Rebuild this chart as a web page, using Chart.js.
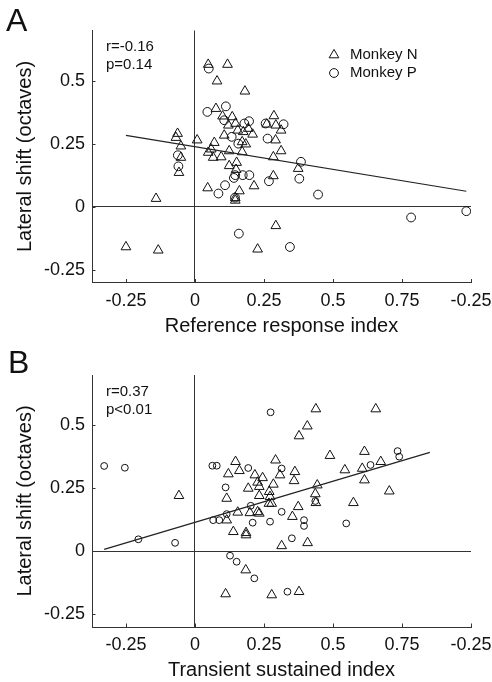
<!DOCTYPE html>
<html><head><meta charset="utf-8">
<script src="https://cdn.jsdelivr.net/npm/chart.js@4.4.0/dist/chart.umd.min.js"></script>
<style>
html,body{margin:0;padding:0;background:#fff;}
#wrap{position:relative;width:492px;height:682px;overflow:hidden;}
.pc{position:absolute;left:0;width:492px;height:341px;}
.lbl{position:absolute;font-family:"Liberation Sans",Arial,sans-serif;font-size:32px;color:#111;line-height:1;}
</style></head><body>
<div id="wrap">
<div class="pc" style="top:0"><canvas id="cA" width="492" height="341"></canvas></div>
<div class="pc" style="top:341px"><canvas id="cB" width="492" height="341"></canvas></div>
<div class="lbl" style="left:6px;top:4px">A</div>
<div class="lbl" style="left:8px;top:346px">B</div>
</div>
<script>
// ---------- data ----------
const xTickValues = [-0.25, 0, 0.25, 0.5, 0.75, 1.0];
const xTickLabels = ['-0.25', '0', '0.25', '0.5', '0.75', '-0.25'];
const yTickValues = [-0.25, 0, 0.25, 0.5];
const yTickLabels = ['-0.25', '0', '0.25', '0.5'];

// Panel A: Monkey N (triangles)
const aN_x = [0.048,0.118,0.080,0.181,0.076,0.100,0.135,0.121,0.147,0.155,0.175,0.193,0.209,0.106,0.286,0.260,0.293,0.312,0.292,0.312,0.284,0.284,0.374,-0.063,-0.069,-0.051,-0.051,-0.058,0.008,0.070,0.059,0.048,0.066,0.095,0.124,0.124,0.151,0.149,0.171,0.184,0.171,0.046,0.161,0.214,0.146,0.146,-0.141,-0.250,-0.133,0.227,0.293];
const aN_y = [0.565,0.565,0.499,0.459,0.390,0.360,0.357,0.324,0.331,0.304,0.298,0.311,0.288,0.284,0.361,0.328,0.324,0.304,0.265,0.222,0.198,0.123,0.152,0.291,0.275,0.241,0.196,0.136,0.265,0.255,0.229,0.216,0.196,0.198,0.222,0.163,0.176,0.148,0.218,0.249,0.258,0.075,0.063,0.083,0.026,0.036,0.033,-0.159,-0.172,-0.168,-0.075];
// Panel A: Monkey P (circles)
const aP_x = [0.050,0.045,0.112,0.106,0.179,0.196,0.256,0.321,0.263,0.133,0.157,-0.062,-0.060,0.384,0.378,0.268,0.197,0.173,0.146,0.141,0.109,0.085,0.145,0.446,0.783,0.983,0.159,0.344];
const aP_y = [0.549,0.377,0.399,0.344,0.331,0.340,0.331,0.328,0.271,0.278,0.251,0.205,0.161,0.179,0.112,0.102,0.126,0.126,0.126,0.115,0.086,0.053,0.037,0.049,-0.042,-0.017,-0.106,-0.159];
// Panel A regression line (end points)
const fitA_x = [-0.25, 0.983];
const fitA_y = [0.284, 0.062];

// Panel B: Monkey N (triangles)
const bN_x = [0.438,0.655,0.407,0.377,0.489,0.614,0.606,0.673,0.543,0.614,0.704,0.443,0.436,0.438,0.574,0.362,0.359,0.374,0.353,0.408,0.314,0.147,0.161,0.121,0.292,0.308,0.217,0.245,0.227,0.233,0.284,0.193,0.269,0.233,0.272,0.278,0.268,0.115,0.199,0.227,0.233,0.155,0.115,0.139,0.185,0.185,-0.058,0.184,0.111,0.278,0.377];
const bN_y = [0.565,0.565,0.497,0.458,0.380,0.396,0.329,0.356,0.323,0.283,0.239,0.263,0.228,0.193,0.193,0.316,0.280,0.177,0.138,0.034,0.022,0.356,0.320,0.307,0.362,0.303,0.303,0.292,0.274,0.257,0.266,0.250,0.237,0.221,0.217,0.190,0.190,0.210,0.153,0.157,0.151,0.155,0.124,0.078,0.074,0.065,0.221,-0.074,-0.169,-0.173,-0.160];
// Panel B: Monkey P (circles)
const bP_x = [-0.329,-0.254,-0.205,-0.072,0.274,0.063,0.079,0.193,0.314,0.111,0.202,0.115,0.066,0.088,0.209,0.272,0.314,0.395,0.395,0.351,0.548,0.436,0.636,0.734,0.740,0.127,0.151,0.215,0.335];
const bP_y = [0.339,0.332,0.048,0.034,0.552,0.340,0.340,0.331,0.329,0.254,0.181,0.148,0.124,0.124,0.114,0.118,0.157,0.124,0.101,0.052,0.111,0.200,0.343,0.398,0.376,-0.017,-0.041,-0.107,-0.160];
// Panel B regression line
const fitB_x = [-0.329, 0.851];
const fitB_y = [0.008, 0.393];

// ---------- rendering ----------
const FAM = '"Liberation Sans", Arial, sans-serif';
const INK = '#111';
const AX = '#333';
const pts = (xs, ys) => xs.map((x, i) => ({x: x, y: ys[i]}));

const decoPlugin = {
  id: 'deco',
  afterDraw(chart, args, o) {
    const ctx = chart.ctx;
    const xs = chart.scales.x, ys = chart.scales.y;
    const ca = chart.chartArea;
    ctx.save();
    ctx.strokeStyle = AX;
    ctx.lineWidth = 1;
    ctx.beginPath();
    xTickValues.forEach(v => {
      const px = Math.round(xs.getPixelForValue(v)) + 0.5;
      ctx.moveTo(px, ca.bottom); ctx.lineTo(px, ca.bottom - 3.5);
    });
    yTickValues.forEach(v => {
      const py = Math.round(ys.getPixelForValue(v)) + 0.5;
      ctx.moveTo(ca.left, py); ctx.lineTo(ca.left + 3.5, py);
    });
    ctx.stroke();
    ctx.fillStyle = INK;
    ctx.font = '15px ' + FAM;
    ctx.textBaseline = 'middle';
    ctx.textAlign = 'left';
    (o.notes || []).forEach(n => ctx.fillText(n.text, n.x, n.y));
    if (o.legend) {
      const L = o.legend;
      ctx.strokeStyle = INK;
      ctx.lineWidth = 1;
      const r = L.tri;
      ctx.beginPath();
      ctx.moveTo(L.x, L.y1 - r);
      ctx.lineTo(L.x + r * 0.866, L.y1 + r / 2);
      ctx.lineTo(L.x - r * 0.866, L.y1 + r / 2);
      ctx.closePath();
      ctx.stroke();
      ctx.beginPath();
      ctx.arc(L.x, L.y2, L.circ, 0, Math.PI * 2);
      ctx.stroke();
      ctx.fillText('Monkey N', L.tx, L.y1);
      ctx.fillText('Monkey P', L.tx, L.y2);
    }
    ctx.restore();
  }
};

function makePanel(id, cfg) {
  const zeroColor = c => (c.tick && Math.abs(c.tick.value) < 1e-9) ? AX : 'rgba(0,0,0,0)';
  return new Chart(document.getElementById(id), {
    type: 'scatter',
    data: {
      datasets: [
        {label: 'fit', type: 'line', data: pts(cfg.fitX, cfg.fitY), borderColor: '#222', borderWidth: 1.2,
         pointRadius: 0, fill: false, tension: 0, order: 0},
        {label: 'Monkey N', data: pts(cfg.nX, cfg.nY), pointStyle: 'triangle', pointRadius: 5.6,
         pointHoverRadius: 5.6, borderColor: INK, backgroundColor: 'rgba(255,255,255,0)', pointBorderWidth: 1, order: 1},
        {label: 'Monkey P', data: pts(cfg.pX, cfg.pY), pointStyle: 'circle', pointRadius: cfg.circR,
         pointHoverRadius: cfg.circR, borderColor: INK, backgroundColor: 'rgba(255,255,255,0)', pointBorderWidth: 1, order: 2}
      ]
    },
    options: {
      responsive: false,
      animation: false,
      devicePixelRatio: 1,
      layout: {padding: {left: 0, top: cfg.padTop, right: 21, bottom: 0}},
      plugins: {
        legend: {display: false},
        tooltip: {enabled: false},
        deco: {notes: cfg.notes, legend: cfg.legend}
      },
      scales: {
        x: {
          type: 'linear', min: -0.373, max: 1.0,
          afterBuildTicks: s => { s.ticks = xTickValues.map(v => ({value: v})); },
          afterFit: s => { s.height = cfg.xH; s.paddingLeft = 0; s.paddingRight = 0; },
          ticks: {
            autoSkip: false, maxRotation: 0, minRotation: 0, padding: 7.5, color: INK,
            font: {family: FAM, size: 18},
            callback: v => { const i = xTickValues.findIndex(t => Math.abs(t - v) < 1e-9); return i >= 0 ? xTickLabels[i] : ''; }
          },
          grid: {drawTicks: false, color: zeroColor, lineWidth: 1},
          border: {display: true, color: AX, width: 1},
          title: {display: true, text: cfg.xTitle, color: INK, font: {family: FAM, size: 20},
                  padding: {top: 0, bottom: cfg.xTitlePad}}
        },
        y: {
          type: 'linear', min: -0.3, max: 0.7,
          afterBuildTicks: s => { s.ticks = yTickValues.map(v => ({value: v})); },
          afterFit: s => { s.width = 92; s.paddingTop = 0; s.paddingBottom = 0; },
          ticks: {
            autoSkip: false, padding: 7, color: INK,
            font: {family: FAM, size: 18},
            callback: v => { const i = yTickValues.findIndex(t => Math.abs(t - v) < 1e-9); return i >= 0 ? yTickLabels[i] : ''; }
          },
          grid: {drawTicks: false, color: zeroColor, lineWidth: 1},
          border: {display: true, color: AX, width: 1},
          title: {display: true, text: 'Lateral shift (octaves)', color: INK, font: {family: FAM, size: 20},
                  padding: {top: 13, bottom: 0}}
        }
      }
    },
    plugins: [decoPlugin]
  });
}

makePanel('cA', {
  nX: aN_x, nY: aN_y, pX: aP_x, pY: aP_y, fitX: fitA_x, fitY: fitA_y,
  circR: 4.4, padTop: 30.5, xH: 58.5, xTitlePad: 3,
  xTitle: 'Reference response index',
  notes: [{text: 'r=-0.16', x: 106, y: 47}, {text: 'p=0.14', x: 106, y: 65}],
  legend: {x: 334, y1: 55, y2: 73, tri: 5.6, circ: 4.4, tx: 350}
});
makePanel('cB', {
  nX: bN_x, nY: bN_y, pX: bP_x, pY: bP_y, fitX: fitB_x, fitY: fitB_y,
  circR: 3.4, padTop: 34, xH: 55, xTitlePad: 0,
  xTitle: 'Transient sustained index',
  notes: [{text: 'r=0.37', x: 106, y: 51}, {text: 'p<0.01', x: 106, y: 69}],
  legend: null
});
</script>
</body></html>
